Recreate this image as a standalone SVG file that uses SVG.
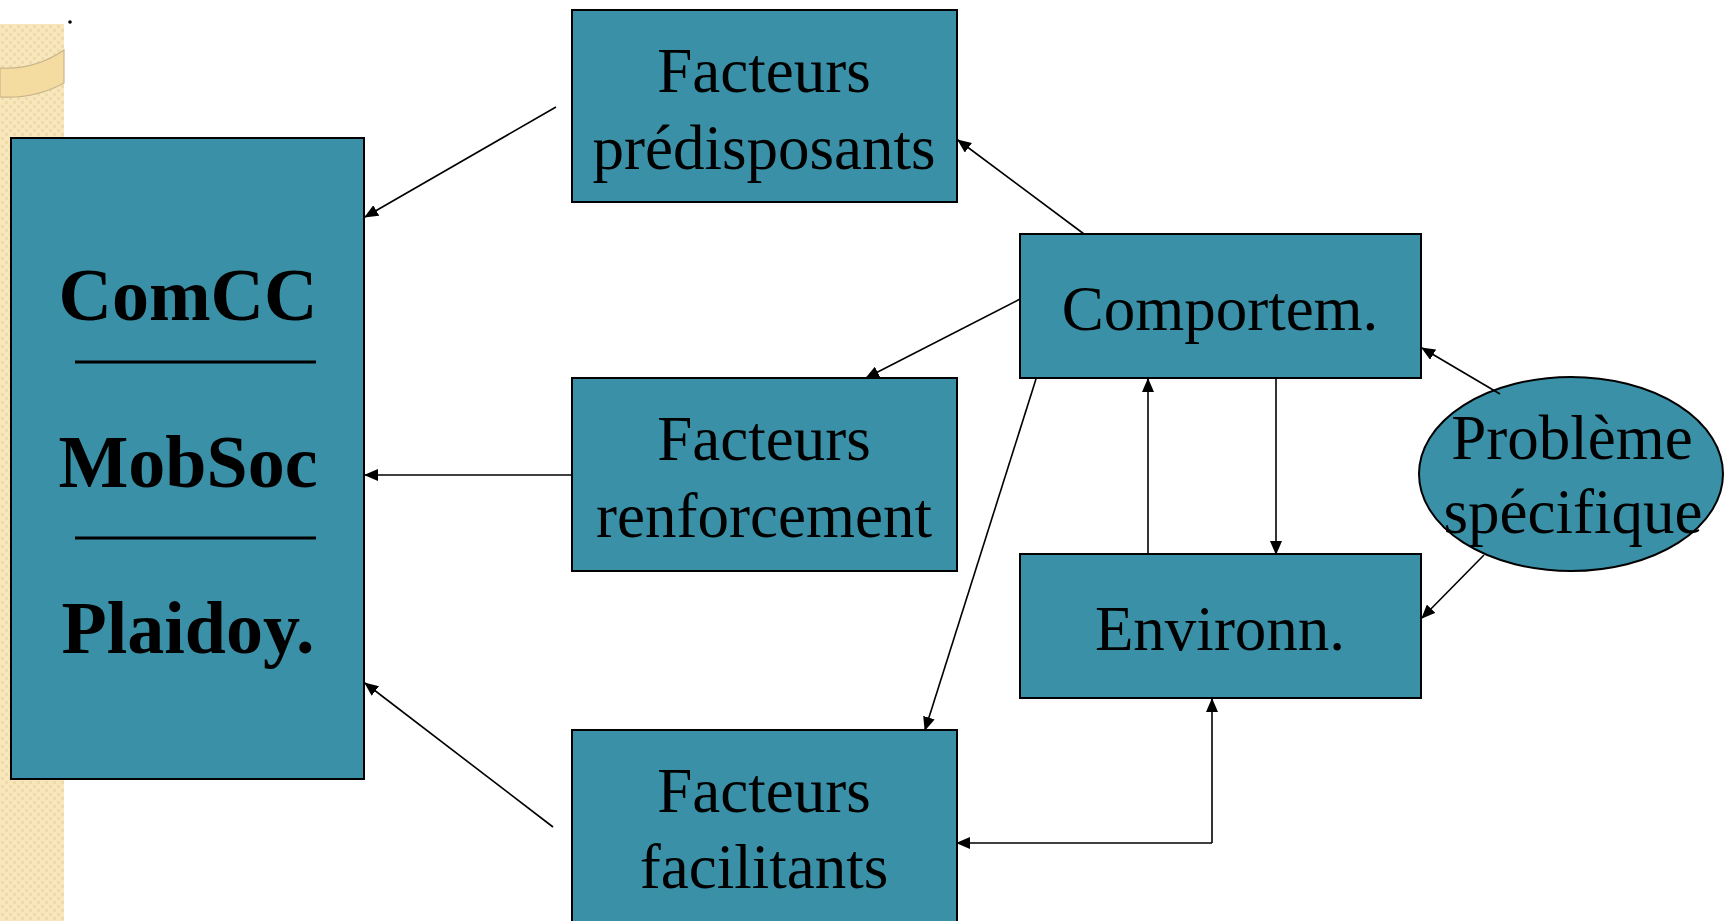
<svg xmlns="http://www.w3.org/2000/svg" width="1724" height="921" viewBox="0 0 1724 921">
<style>
.box{fill:#3a91a7;stroke:#000;stroke-width:2}
.t{font-family:"Liberation Serif","Times New Roman",serif;font-size:63px;fill:#000;text-anchor:middle}
.b{font-family:"Liberation Serif","Times New Roman",serif;font-size:74px;font-weight:bold;fill:#000;text-anchor:middle}
.c{stroke:#000;stroke-width:1.6;fill:none}
.a{marker-end:url(#ah)}
</style>
<defs>
<pattern id="chk" width="8" height="8" patternUnits="userSpaceOnUse">
<rect width="8" height="8" fill="#f8e7bd"/>
<rect x="1" y="1" width="3" height="3" fill="#efdaa8"/>
<rect x="5" y="5" width="3" height="3" fill="#efdaa8"/>
</pattern>
<marker id="ah" markerWidth="14" markerHeight="12" refX="13" refY="6" orient="auto" markerUnits="userSpaceOnUse">
<path d="M0,0 L14,6 L0,12 Z" fill="#000"/>
</marker>
</defs>
<g id="background">
<rect x="0" y="24" width="64" height="897" fill="url(#chk)"/>
<path d="M0,68 Q35,70 64,50 L64,83 Q35,99 0,97 Z" fill="#f4dba0" stroke="#c9b58c" stroke-width="1.2"/>
<circle cx="70" cy="22" r="1.8" fill="#000"/>
</g>
<g id="node-left">
<rect class="box" x="11" y="138" width="353" height="641"/>
<text class="b" x="188" y="320">ComCC</text>
<line x1="75" y1="362" x2="316" y2="362" stroke="#000" stroke-width="3"/>
<text class="b" x="188" y="487">MobSoc</text>
<line x1="75" y1="538" x2="316" y2="538" stroke="#000" stroke-width="3"/>
<text class="b" x="188" y="653">Plaidoy.</text>
</g>
<g id="node-predisposants">
<rect class="box" x="572" y="10" width="385" height="192"/>
<text class="t" x="764" y="92">Facteurs</text>
<text class="t" x="764" y="169">prédisposants</text>
</g>
<g id="node-renforcement">
<rect class="box" x="572" y="378" width="385" height="193"/>
<text class="t" x="764" y="460">Facteurs</text>
<text class="t" x="764" y="537">renforcement</text>
</g>
<g id="node-facilitants">
<rect class="box" x="572" y="730" width="385" height="200"/>
<text class="t" x="764" y="812">Facteurs</text>
<text class="t" x="764" y="888">facilitants</text>
</g>
<g id="node-comportem">
<rect class="box" x="1020" y="234" width="401" height="144"/>
<text class="t" x="1220" y="330">Comportem.</text>
</g>
<g id="node-environn">
<rect class="box" x="1020" y="554" width="401" height="144"/>
<text class="t" x="1220" y="650">Environn.</text>
</g>
<g id="node-probleme">
<ellipse cx="1571" cy="474" rx="152" ry="97" fill="#3a91a7" stroke="#000" stroke-width="2"/>
<text class="t" x="1572" y="459">Problème</text>
<text class="t" x="1573" y="533">spécifique</text>
</g>
<g id="connectors">
<line class="c a" x1="556" y1="107" x2="365" y2="217"/>
<line class="c a" x1="572" y1="475" x2="365" y2="475"/>
<line class="c a" x1="553" y1="827" x2="365" y2="683"/>
<line class="c a" x1="1084" y1="234" x2="958" y2="140"/>
<line class="c a" x1="1020" y1="299" x2="866" y2="378"/>
<line class="c a" x1="1036" y1="379" x2="925" y2="730"/>
<line class="c a" x1="1148" y1="554" x2="1148" y2="379"/>
<line class="c a" x1="1276" y1="379" x2="1276" y2="554"/>
<line class="c a" x1="1500" y1="394" x2="1422" y2="348"/>
<line class="c a" x1="1484" y1="555" x2="1422" y2="618"/>
<line class="c a" x1="1212" y1="843" x2="1212" y2="699"/>
<line class="c a" x1="1212" y1="843" x2="957" y2="843"/>
</g>
</svg>
